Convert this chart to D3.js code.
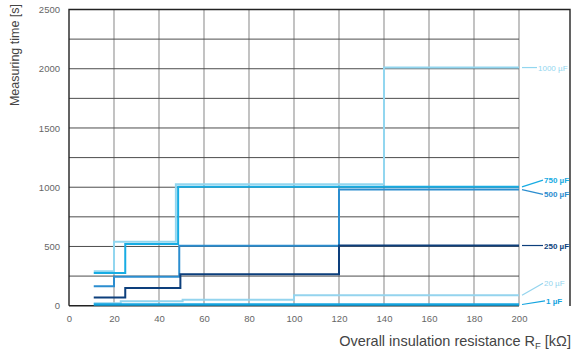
<!DOCTYPE html>
<html><head><meta charset="utf-8">
<script src="https://cdn.jsdelivr.net/npm/d3@7"></script>
<style>body{margin:0;background:#fff}svg{display:block}text{font-family:"Liberation Sans",Arial,sans-serif}</style>
</head><body><svg id="c" width="582" height="356"></svg>
<script>
const xTicks = [0,20,40,60,80,100,120,140,160,180,200];
const yTicks = [0,500,1000,1500,2000,2500];
const yGrid = [0,250,500,750,1000,1250,1500,1750,2000,2250,2500];
const seriesNames = ["1000 µF","750 µF","500 µF","250 µF","20 µF","1 µF"];
const seriesColors = ["#92d6ef","#17ace3","#2b8dcf","#0d3f7c","#94d4ee","#14a4df"];
const s1000x = [11,20,47.5,140,200], s1000y = [290,540,1025,2010,2010];
const s750x  = [11,25,48.5,200],      s750y  = [275,520,1003,1003];
const s500x  = [11,20,49,120,200],    s500y  = [165,245,505,980,980];
const s250x  = [11,25,49.5,120,200],  s250y  = [70,150,265,508,508];
const s20x   = [11,23,50.5,100,200],  s20y   = [20,37,50,88,88];
const s1x    = [11,200],              s1y    = [10,10];
const seriesX = [s1000x,s750x,s500x,s250x,s20x,s1x];
const seriesY = [s1000y,s750y,s500y,s250y,s20y,s1y];
const labelY  = [2010,1060,940,508,190,40];   // label anchor values (text position)

const svg = d3.select("#c");
const x = d3.scaleLinear().domain([0,200]).range([69,519]);
const y = d3.scaleLinear().domain([0,2500]).range([305.7,9.5]);

// vertical grid
svg.append("g").selectAll("line").data(xTicks.slice(1)).join("line")
  .attr("x1",d=>x(d)).attr("x2",d=>x(d)).attr("y1",y(0)).attr("y2",y(2500))
  .attr("stroke","#a9a9a9").attr("stroke-width",1.4);
// horizontal grid
svg.append("g").selectAll("line").data(yGrid.slice(1)).join("line")
  .attr("x1",x(0)).attr("x2",x(200)).attr("y1",d=>y(d)).attr("y2",d=>y(d))
  .attr("stroke","#4d4d4d").attr("stroke-width",1);
// frame
svg.append("path").attr("d",`M${x(0)},${y(0)}V${y(2500)}H570V${y(0)+0.3}`)
  .attr("fill","none").attr("stroke","#222").attr("stroke-width",1.4);
svg.append("line").attr("x1",x(0)).attr("x2",x(200)).attr("y1",y(0)).attr("y2",y(0))
  .attr("stroke","#222").attr("stroke-width",1.4);

// axes
const xa = svg.append("g").attr("transform",`translate(0,${y(0)})`)
  .call(d3.axisBottom(x).tickValues(xTicks).tickFormat(d3.format("d")).tickSize(0).tickPadding(10));
xa.select(".domain").remove();
xa.selectAll("text").attr("fill","#666").style("font-size","9.5px");
const ya = svg.append("g").attr("transform",`translate(${x(0)-5},0)`)
  .call(d3.axisLeft(y).tickValues(yTicks).tickFormat(d3.format("d")).tickSize(0).tickPadding(4));
ya.select(".domain").remove();
ya.selectAll("text").attr("fill","#666").style("font-size","9.5px");

// series
const line = d3.line().x(d=>x(d[0])).y(d=>y(d[1])).curve(d3.curveStepAfter);
seriesNames.forEach((n,i)=>{
  const pts = seriesX[i].map((v,j)=>[v,seriesY[i][j]]);
  svg.append("path").datum(pts).attr("d",line).attr("fill","none")
    .attr("stroke",seriesColors[i]).attr("stroke-width",i===5?2.6:2);
});

// labels with leaders
const bold = [false,true,true,true,false,true];
seriesNames.forEach((n,i)=>{
  const endV = seriesY[i][seriesY[i].length-1];
  const ly = y(labelY[i]);
  const lx = i===0?537:(i===5?545:543);
  svg.append("line").attr("x1",x(200)+3).attr("y1",y(endV)).attr("x2",lx).attr("y2",ly)
    .attr("stroke",seriesColors[i]).attr("stroke-width",1.2);
  svg.append("text").attr("x",lx+1).attr("y",ly+3).text(n)
    .attr("fill",seriesColors[i]).style("font-size","8px")
    .style("font-weight",bold[i]?"bold":"normal");
});

// titles
svg.append("text").attr("transform","translate(19,55) rotate(-90)")
  .attr("text-anchor","middle").attr("fill","#444").style("font-size","12.5px")
  .text("Measuring time [s]");
const xt = svg.append("text").attr("x",571).attr("y",346).attr("text-anchor","end")
  .attr("fill","#444").style("font-size","14.5px");
xt.append("tspan").text("Overall insulation resistance R");
xt.append("tspan").attr("dy",3).style("font-size","9.5px").text("F");
xt.append("tspan").attr("dy",-3).text(" [kΩ]");
</script></body></html>
